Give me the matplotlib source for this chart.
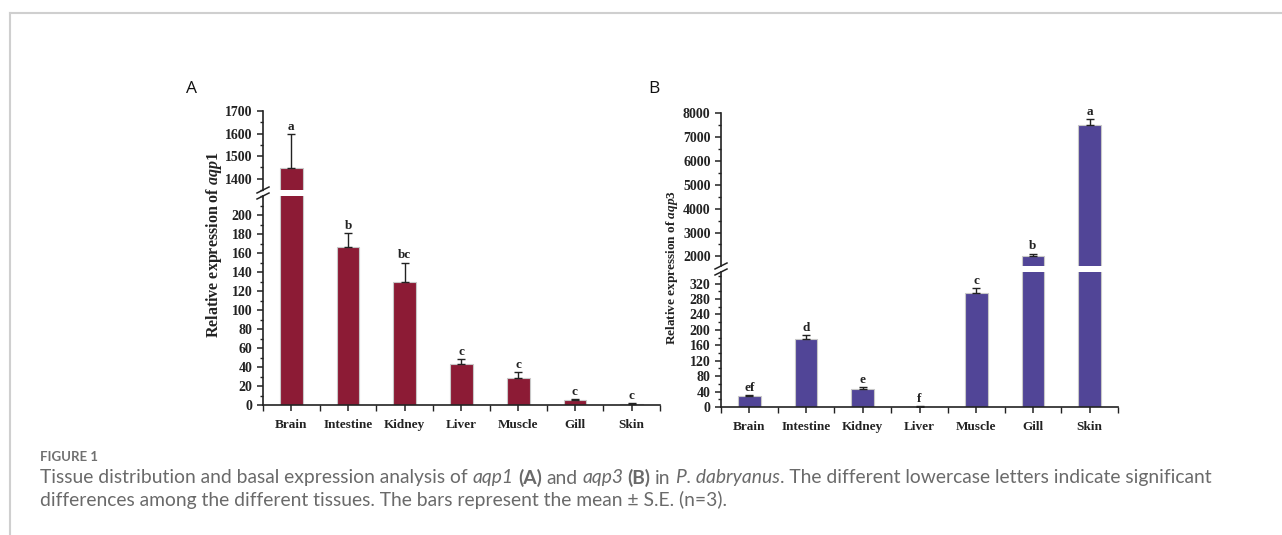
import matplotlib
matplotlib.use("Agg")
import matplotlib.pyplot as plt
from matplotlib.lines import Line2D
from matplotlib.ticker import MultipleLocator
import numpy as np

# tissues and expression values (mean, S.E.)
tissues = ["Brain", "Intestine", "Kidney", "Liver", "Muscle", "Gill", "Skin"]

aqp1_mean = [1448, 166, 129.6, 42.7, 28.7, 4.9, 1.2]
aqp1_se = [150, 15, 20, 5.6, 5.6, 1.4, 0.5]
aqp1_letters = ["a", "b", "bc", "c", "c", "c", "c"]

aqp3_mean = [27.6, 177.3, 47.3, 0.6, 296, 2020, 7510]
aqp3_se = [3.4, 8.7, 3.5, 1.5, 12, 90, 230]
aqp3_letters = ["ef", "d", "e", "f", "c", "b", "a"]

W, H = 1282, 535
plt.rcParams["font.family"] = "Liberation Serif"
plt.rcParams["font.weight"] = "bold"
plt.rcParams["mathtext.fontset"] = "custom"
plt.rcParams["mathtext.it"] = "Liberation Serif:italic:bold"
plt.rcParams["mathtext.rm"] = "Liberation Serif:bold"

fig = plt.figure(figsize=(W / 100, H / 100), dpi=100)
ink = "#222222"


def px_box(l, t, r, b):
    return [l / W, 1 - b / H, (r - l) / W, (b - t) / H]


def style_axis(ax):
    for side in ["top", "right"]:
        ax.spines[side].set_visible(False)
    for side in ["left", "bottom"]:
        ax.spines[side].set_linewidth(1.2)
        ax.spines[side].set_color(ink)
    ax.tick_params(which="major", direction="out", length=4, width=1.1,
                   colors=ink, labelsize=10)
    ax.tick_params(which="minor", direction="out", length=2.5, width=1.0,
                   colors=ink)
    ax.set_facecolor("none")


def broken_panel(l, r, top, brk_hi, brk_lo, bottom, lo_lim, hi_lim,
                 lo_step, hi_step, means, ses, letters, color, gene,
                 label, label_x, lab_x, lab_y, lab_size):
    ax_hi = fig.add_axes(px_box(l, top, r, brk_hi))
    ax_lo = fig.add_axes(px_box(l, brk_lo, r, bottom))
    x = np.arange(len(tissues))
    for ax in (ax_hi, ax_lo):
        style_axis(ax)
        ax.bar(x, means, width=0.4, color=color, edgecolor="#c8c8c8",
               linewidth=0.8, zorder=2)
        ax.errorbar(x, means, yerr=[np.zeros(len(means)), ses], fmt="none",
                    ecolor=ink, elinewidth=1.0, capsize=3, capthick=1.0, zorder=3)
        ax.set_xlim(-0.5, 6.5)
    ax_lo.set_ylim(*lo_lim)
    ax_hi.set_ylim(*hi_lim)
    ax_lo.yaxis.set_minor_locator(MultipleLocator(lo_step / 2))
    ax_hi.yaxis.set_minor_locator(MultipleLocator(hi_step / 2))
    ax_lo.set_yticks(np.arange(0, lo_lim[1], lo_step))
    ax_hi.set_yticks(np.arange(hi_step * np.ceil(hi_lim[0] / hi_step),
                               hi_lim[1] + 1, hi_step))
    ax_hi.spines["bottom"].set_visible(False)
    ax_hi.tick_params(axis="x", which="both", bottom=False, labelbottom=False)
    ax_lo.set_xticks(x)
    ax_lo.set_xticks(np.arange(-0.5, 7, 1.0), minor=True)
    ax_lo.tick_params(axis="x", which="minor", length=4)
    ax_lo.set_xticklabels(tissues, fontsize=9.5, fontweight="bold")
    ax_lo.tick_params(axis="x", pad=6)

    # significance letters above the error bars
    for xi, m, s, let in zip(x, means, ses, letters):
        ax = ax_hi if m + s > lo_lim[1] else ax_lo
        ax.annotate(let, (xi, m + s), xytext=(0, 1), textcoords="offset points",
                    ha="center", va="bottom", fontsize=9.5, fontweight="bold",
                    color=ink)

    # break marks on the y axis
    for yy in (brk_hi, brk_lo):
        fig.add_artist(Line2D([(l - 6) / W, (l + 6) / W],
                              [1 - (yy + 3) / H, 1 - (yy - 3) / H],
                              color=ink, lw=1.1))

    fig.text(lab_x / W, 1 - lab_y / H,
             r"Relative expression of $\mathit{" + gene + "}$",
             rotation=90, ha="center", va="center", fontsize=lab_size,
             fontweight="bold", color=ink)
    fig.text(label_x / W, 1 - 89 / H, label, fontsize=12.5, family="Open Sans",
             fontweight="normal", ha="center", va="center", color="#111111")


broken_panel(263, 660, 111, 190, 196, 405, (0, 220), (1350, 1700), 20, 100,
             aqp1_mean, aqp1_se, aqp1_letters, "#8c1b35", "aqp1", "A", 191,
             214, 245, 11.5)
broken_panel(721, 1118, 113, 266, 272, 407, (0, 350), (1600, 8000), 40, 1000,
             aqp3_mean, aqp3_se, aqp3_letters, "#514597", "aqp3", "B", 654,
             672, 268, 9.5)

# page frame
frame = "#cfcfcf"
fig.add_artist(Line2D([9.5 / W, 1], [1 - 13 / H, 1 - 13 / H], color=frame, lw=1.5))
fig.add_artist(Line2D([9.5 / W, 9.5 / W], [0, 1 - 13 / H], color=frame, lw=1.5))

# caption
cap_col = "#6a6a6a"
cap_font = "Lato"
cap_size = 13.85
fig.text(40 / W, 1 - 457 / H, "FIGURE 1", family=cap_font, fontsize=9.5,
         fontweight="bold", color="#707070", va="center")

renderer = fig.canvas.get_renderer()


def text_width(s, **kw):
    t = fig.text(0, 0, s, **kw)
    w = t.get_window_extent(renderer).width
    t.remove()
    return w


space_w = (text_width("a a", family=cap_font, fontsize=cap_size)
           - text_width("aa", family=cap_font, fontsize=cap_size))


def rich_line(x, y, parts):
    for s, st in parts:
        kw = dict(family=cap_font, fontsize=cap_size, color=cap_col,
                  fontweight="normal", fontstyle="normal")
        if st == "i":
            kw["fontstyle"] = "italic"
        elif st == "b":
            kw["fontweight"] = "bold"
        body = s.strip(" ")
        if not body:
            x += len(s) * space_w
            continue
        x += (len(s) - len(s.lstrip(" "))) * space_w
        t = fig.text(x / W, 1 - y / H, body, va="center", **kw)
        x = t.get_window_extent(renderer).x1
        x += (len(s) - len(s.rstrip(" "))) * space_w


rich_line(40, 478, [("Tissue distribution and basal expression analysis of ", ""),
                    ("aqp1", "i"), (" ", ""), ("(A)", "b"), (" and ", ""),
                    ("aqp3", "i"), (" ", ""), ("(B)", "b"), (" in ", ""),
                    ("P. dabryanus", "i"),
                    (". The different lowercase letters indicate significant", "")])
rich_line(40, 500, [("differences among the different tissues. The bars represent "
                     "the mean \u00b1 S.E. (n=3).", "")])

fig.savefig("out.png", dpi=100, facecolor="white")
